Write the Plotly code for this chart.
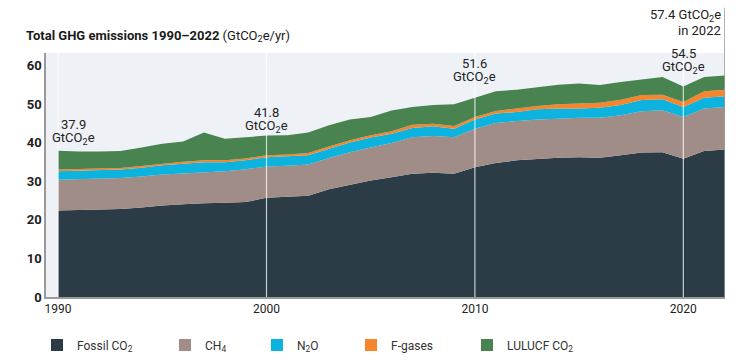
import plotly.graph_objects as go

years = list(range(1990, 2023))

fossil_co2 = [22.4, 22.5, 22.6, 22.8, 23.2, 23.7, 24.0, 24.3, 24.4, 24.6,
              25.7, 25.9, 26.2, 27.9, 29.1, 30.2, 31.0, 31.9, 32.2, 31.9,
              33.6, 34.7, 35.4, 35.8, 36.1, 36.2, 36.1, 36.7, 37.4, 37.5,
              35.8, 37.8, 38.2]
ch4 = [8.0, 8.0, 8.0, 8.0, 8.0, 8.0, 8.0, 8.0, 8.2, 8.5,
       8.1, 8.1, 8.1, 8.1, 8.4, 8.5, 8.9, 9.5, 9.5, 9.5,
       10.0, 10.4, 10.1, 10.2, 10.1, 10.2, 10.3, 10.4, 10.7, 10.9,
       10.8, 11.0, 11.0]
n2o = [2.2, 2.2, 2.2, 2.2, 2.3, 2.4, 2.5, 2.6, 2.3, 2.3,
       2.4, 2.4, 2.4, 2.4, 2.5, 2.6, 2.4, 2.4, 2.5, 2.2,
       2.4, 2.4, 2.4, 2.6, 2.6, 2.4, 2.6, 2.6, 2.9, 2.8,
       2.6, 2.8, 2.8]
f_gases = [0.4, 0.4, 0.4, 0.4, 0.4, 0.4, 0.5, 0.5, 0.5, 0.5,
           0.5, 0.5, 0.6, 0.6, 0.6, 0.6, 0.6, 0.8, 0.7, 0.7,
           0.6, 0.7, 0.9, 0.9, 1.1, 1.3, 1.3, 1.4, 1.3, 1.2,
           1.3, 1.7, 1.7]
lulucf_co2 = [4.9, 4.6, 4.5, 4.4, 4.8, 5.2, 5.3, 7.2, 5.6, 5.5,
              5.1, 5.0, 5.3, 5.5, 5.4, 4.7, 5.4, 4.6, 4.8, 5.6,
              5.0, 5.1, 4.9, 4.9, 5.1, 5.2, 4.6, 4.6, 4.1, 4.6,
              4.0, 3.7, 3.7]

series_names = ["Fossil CO<sub>2</sub>", "CH<sub>4</sub>", "N<sub>2</sub>O",
                "F-gases", "LULUCF CO<sub>2</sub>"]
series_values = [fossil_co2, ch4, n2o, f_gases, lulucf_co2]
series_colors = ["#2b3c46", "#a08d87", "#0bb3de", "#f5862e", "#488350"]

x_ticks = [1990, 2000, 2010, 2020]
x_tick_labels = ["1990", "2000", "2010", "2020"]
y_ticks = [0, 10, 20, 30, 40, 50, 60]

label_years = [1990, 2000, 2010, 2020]
label_values = [37.9, 41.8, 51.6, 54.5]
label_unit = "GtCO<sub>2</sub>e"
final_year = 2022
final_value = 57.4

# positioning (styles, not data)
label_xshift = [15, 0, 0, 0]
label_val_yshift = [26, 23, 34, 33]
label_unit_yshift = [12, 9, 20, 19]
legend_x_px = [37, 165, 257, 351, 467]

fig = go.Figure()
for name, vals, col in zip(series_names, series_values, series_colors):
    fig.add_trace(go.Scatter(
        x=years, y=vals, mode="lines", stackgroup="one",
        line=dict(width=0, color=col), fillcolor=col,
        showlegend=False, hoverinfo="skip"))

legend_ids = ["legend", "legend2", "legend3", "legend4", "legend5"]
for name, col, lid in zip(series_names, series_colors, legend_ids):
    fig.add_trace(go.Scatter(
        x=[None], y=[None], mode="markers", name=name,
        marker=dict(symbol="square", size=12, color=col),
        legend=lid, showlegend=True))

font_main = "Roboto, 'Noto Sans', sans-serif"
legend_common = dict(orientation="h", xref="container", yref="container",
                     yanchor="middle", y=1 - 345 / 363, xanchor="left",
                     font=dict(family=font_main, size=12, color="#333333"),
                     bgcolor="rgba(0,0,0,0)", borderwidth=0)
layout_legends = {}
for lid, lx in zip(legend_ids, legend_x_px):
    layout_legends[lid] = dict(x=lx / 750, **legend_common)

shapes = []
for xv in x_ticks:
    shapes.append(dict(type="line", xref="x", yref="paper", x0=xv, x1=xv, y0=0, y1=1,
                       line=dict(color="rgba(255,255,255,0.75)", width=1.2), layer="above"))
shapes.append(dict(type="line", xref="x", yref="paper", x0=final_year, x1=final_year,
                   y0=0, y1=1.185, line=dict(color="#9a9a9a", width=1.5), layer="above"))

annotations = []
for yr, v, xs, vy, uy in zip(label_years, label_values, label_xshift,
                             label_val_yshift, label_unit_yshift):
    annotations.append(dict(x=yr, y=v, xref="x", yref="y", text=f"{v}",
                            showarrow=False, xshift=xs, yshift=vy, yanchor="middle",
                            font=dict(family=font_main, size=13, color="#222222")))
    annotations.append(dict(x=yr, y=v, xref="x", yref="y", text=label_unit,
                            showarrow=False, xshift=xs, yshift=uy, yanchor="middle",
                            font=dict(family=font_main, size=13, color="#222222")))
annotations.append(dict(x=final_year, y=final_value, xref="x", yref="y",
                        text=f"{final_value} {label_unit}", showarrow=False,
                        xanchor="right", xshift=-2, yshift=60, yanchor="middle",
                        font=dict(family=font_main, size=13, color="#222222")))
annotations.append(dict(x=final_year, y=final_value, xref="x", yref="y",
                        text=f"in {final_year}", showarrow=False,
                        xanchor="right", xshift=-2, yshift=45, yanchor="middle",
                        font=dict(family=font_main, size=13, color="#222222")))

fig.update_layout(
    width=750, height=363,
    margin=dict(l=46, r=25, t=53, b=66, autoexpand=False),
    paper_bgcolor="white", plot_bgcolor="#eef2f6",
    hovermode=False,
    title=dict(text="<b>Total GHG emissions 1990–2022</b> (GtCO<sub>2</sub>e/yr)",
               x=26/750, xanchor="left", xref="container",
               y=1-35/363, yanchor="middle", yref="container",
               font=dict(family=font_main, size=13, color="#1a1a1a")),
    xaxis=dict(range=[1989.42, 2022], tickvals=x_ticks, ticktext=x_tick_labels,
               showgrid=False, zeroline=False, showline=True, linecolor="#9a9a9a",
               linewidth=1.5, ticks="", tickfont=dict(family=font_main, size=12, color="#222222")),
    yaxis=dict(range=[0, 63.2], tickvals=y_ticks, showgrid=False, zeroline=False,
               showline=True, linecolor="#9a9a9a", linewidth=1.5, ticks="",
               tickfont=dict(family=font_main, size=13, color="#222222", weight="bold")),
    shapes=shapes, annotations=annotations,
    **layout_legends,
)

fig.write_html("out.html",
               config={"displayModeBar": False},
               post_script="document.body.style.margin='0px';document.body.style.padding='0px';")
